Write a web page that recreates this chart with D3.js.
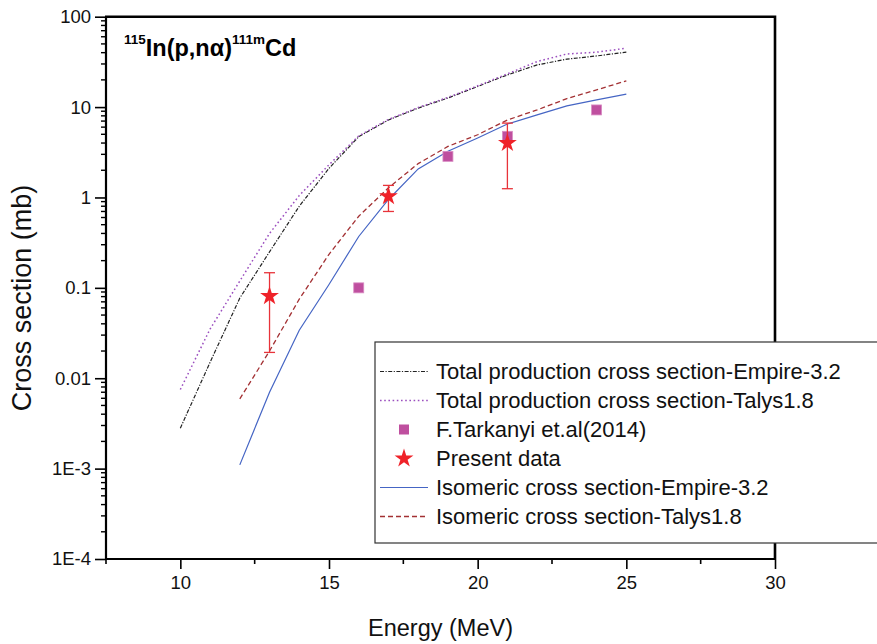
<!DOCTYPE html>
<html>
<head>
<meta charset="utf-8">
<script src="https://cdn.jsdelivr.net/npm/d3@7"></script>
<style>
  html, body { margin: 0; padding: 0; background: #fff; }
  svg { display: block; font-family: Arial, "Liberation Sans", sans-serif; }
</style>
</head>
<body>
<svg id="chart" width="877" height="644"></svg>
<script>
// Proton energies (MeV) for the model curves
const energyTotal = [10, 11, 12, 13, 14, 15, 16, 17, 18, 19, 20, 21, 22, 23, 24, 25];
const empireTotal = [0.0028, 0.015, 0.077, 0.25, 0.80, 2.1, 4.7, 7.2, 9.75, 12.6, 16.9, 22.7, 29.3, 33.9, 36.8, 40.5];
const talysTotal  = [0.0075, 0.035, 0.119, 0.40, 1.05, 2.3, 4.8, 7.3, 9.9, 12.8, 17.2, 23.3, 31.9, 38.7, 40.5, 44.8];

const energyIso = [12, 13, 14, 15, 16, 17, 18, 19, 20, 21, 22, 23, 24, 25];
const empireIso = [0.0011, 0.0070, 0.034, 0.109, 0.37, 0.95, 2.07, 3.24, 4.55, 6.5, 8.2, 10.3, 12.0, 13.9];
const talysIso  = [0.0059, 0.020, 0.075, 0.235, 0.62, 1.28, 2.37, 3.67, 4.94, 7.2, 9.3, 12.4, 15.5, 19.5];

// F. Tarkanyi et al. (2014)
const tarkanyiEnergy = [16, 19, 21, 24];
const tarkanyiValue  = [0.1, 2.85, 4.75, 9.3];

// Present measurements with error limits
const presentEnergy = [13, 17, 21];
const presentValue  = [0.081, 1.03, 4.0];
const presentLow    = [0.0193, 0.70, 1.25];
const presentHigh   = [0.147, 1.36, 6.65];

const xMajorTicks = [10, 15, 20, 25, 30];
const xMinorTicks = [7.5, 12.5, 17.5, 22.5, 27.5];
const yMajorTicks = [100, 10, 1, 0.1, 0.01, 1e-3, 1e-4];
const yTickLabels = ["100", "10", "1", "0.1", "0.01", "1E-3", "1E-4"];

const legendLabels = [
  "Total production cross section-Empire-3.2",
  "Total production cross section-Talys1.8",
  "F.Tarkanyi et.al(2014)",
  "Present data",
  "Isomeric cross section-Empire-3.2",
  "Isomeric cross section-Talys1.8"
];

const svg = d3.select("#chart");
const plotL = 106, plotR = 775, plotT = 16.7, plotB = 559;

const x = d3.scaleLinear().domain([7.5, 30]).range([plotL, plotR]);
const y = d3.scaleLog().domain([1e-4, 100]).range([plotB, plotT]);

const styles = {
  empireTotal: { stroke: "#222", dash: "4,1.5,1.2,1.5", width: 1.2 },
  talysTotal:  { stroke: "#9b4fbf", dash: "1.6,2.6", width: 1.5 },
  empireIso:   { stroke: "#4565c4", dash: null, width: 1.2 },
  talysIso:    { stroke: "#a33033", dash: "5,3", width: 1.3 }
};

const line = d3.line().x(d => x(d[0])).y(d => y(d[1]));

function drawCurve(es, vs, st) {
  svg.append("path")
    .datum(es.map((e, i) => [e, vs[i]]))
    .attr("d", line)
    .attr("fill", "none")
    .attr("stroke", st.stroke)
    .attr("stroke-width", st.width)
    .attr("stroke-dasharray", st.dash);
}

drawCurve(energyTotal, empireTotal, styles.empireTotal);
drawCurve(energyTotal, talysTotal, styles.talysTotal);
drawCurve(energyIso, empireIso, styles.empireIso);
drawCurve(energyIso, talysIso, styles.talysIso);

// Tarkanyi squares
const sq = 10;
svg.append("g").selectAll("rect")
  .data(tarkanyiEnergy.map((e, i) => [e, tarkanyiValue[i]]))
  .join("rect")
  .attr("x", d => x(d[0]) - sq / 2)
  .attr("y", d => y(d[1]) - sq / 2)
  .attr("width", sq).attr("height", sq)
  .attr("fill", "#bf4f9f")
  .attr("stroke", "#d98cc4").attr("stroke-width", 0.8);

// Present data: error bars then stars
const errColor = "#e8333a";
const capW = 11;
const eg = svg.append("g");
presentEnergy.forEach((e, i) => {
  const cx = x(e);
  eg.append("line").attr("x1", cx).attr("x2", cx)
    .attr("y1", y(presentLow[i])).attr("y2", y(presentHigh[i]))
    .attr("stroke", errColor).attr("stroke-width", 1.3);
  [presentLow[i], presentHigh[i]].forEach(v => {
    eg.append("line").attr("x1", cx - capW / 2).attr("x2", cx + capW / 2)
      .attr("y1", y(v)).attr("y2", y(v))
      .attr("stroke", errColor).attr("stroke-width", 1.3);
  });
});
const star = d3.symbol(d3.symbolStar, 110);
svg.append("g").selectAll("path")
  .data(presentEnergy.map((e, i) => [e, presentValue[i]]))
  .join("path")
  .attr("d", star)
  .attr("transform", d => `translate(${x(d[0])},${y(d[1])})`)
  .attr("fill", "#ef2229");

// Axes
const xAxis = svg.append("g").attr("transform", `translate(0,${plotB})`);
xAxis.call(d3.axisBottom(x).tickValues(xMajorTicks).tickSize(10).tickPadding(7)
  .tickFormat(d3.format("d")));
xAxis.append("g").selectAll("line").data(xMinorTicks).join("line")
  .attr("x1", d => x(d)).attr("x2", d => x(d)).attr("y1", 0).attr("y2", 5)
  .attr("stroke", "#000").attr("stroke-width", 1.6);

const yAxis = svg.append("g").attr("transform", `translate(${plotL},0)`);
yAxis.call(d3.axisLeft(y).tickValues(yMajorTicks).tickSize(11).tickPadding(4)
  .tickFormat((d, i) => yTickLabels[i]));
const yMinor = [];
[1e-4, 1e-3, 0.01, 0.1, 1, 10].forEach(b => { for (let k = 2; k <= 9; k++) yMinor.push(b * k); });
yAxis.append("g").selectAll("line").data(yMinor).join("line")
  .attr("x1", 0).attr("x2", -5).attr("y1", d => y(d)).attr("y2", d => y(d))
  .attr("stroke", "#000").attr("stroke-width", 1.4);

[xAxis, yAxis].forEach(g => {
  g.select(".domain").attr("stroke", "#000").attr("stroke-width", 2.2);
  g.selectAll(".tick line").attr("stroke", "#000").attr("stroke-width", 1.6);
  g.selectAll(".tick text").attr("fill", "#111").style("font-size", "18.5px")
    .style("font-family", "Arial, 'Liberation Sans', sans-serif");
});
xAxis.select(".domain").attr("d", `M${plotL},0H${plotR}`);
yAxis.select(".domain").attr("d", `M0,${plotB}V${plotT}`);

// Top and right borders
svg.append("path")
  .attr("d", `M${plotL - 1},${plotT}H${plotR}V${plotB}`)
  .attr("fill", "none").attr("stroke", "#000").attr("stroke-width", 2.6);

// Axis titles
svg.append("text")
  .attr("x", (plotL + plotR) / 2).attr("y", 636)
  .attr("text-anchor", "middle").style("font-size", "23.5px").attr("fill", "#111")
  .text("Energy (MeV)");
svg.append("text")
  .attr("transform", `translate(31,298) rotate(-90)`)
  .attr("text-anchor", "middle").style("font-size", "27px").attr("fill", "#111")
  .text("Cross section (mb)");

// Reaction label
const title = svg.append("text").attr("x", 124).attr("y", 56)
  .style("font-weight", "bold").attr("fill", "#000");
title.append("tspan").style("font-size", "13.5px").attr("dy", -12).text("115");
title.append("tspan").style("font-size", "23.5px").attr("dy", 12).text("In(p,n\u03b1)");
title.append("tspan").style("font-size", "13.5px").attr("dy", -12).text("111m");
title.append("tspan").style("font-size", "23.5px").attr("dy", 12).text("Cd");

// Legend
const lg = svg.append("g");
lg.append("rect").attr("x", 375).attr("y", 342).attr("width", 520).attr("height", 201)
  .attr("fill", "#fff").attr("stroke", "#333").attr("stroke-width", 1.2);
const rowY = [371.5, 400.5, 429.5, 458.5, 487.5, 516.5];
const legendKinds = ["empireTotal", "talysTotal", "square", "star", "empireIso", "talysIso"];
legendKinds.forEach((k, i) => {
  const cy = rowY[i];
  if (styles[k]) {
    const st = styles[k];
    lg.append("line").attr("x1", 380).attr("x2", 428).attr("y1", cy).attr("y2", cy)
      .attr("stroke", st.stroke).attr("stroke-width", st.width)
      .attr("stroke-dasharray", st.dash);
  } else if (k === "square") {
    lg.append("rect").attr("x", 404 - sq / 2).attr("y", cy - sq / 2)
      .attr("width", sq).attr("height", sq).attr("fill", "#bf4f9f");
  } else {
    lg.append("path").attr("d", star).attr("transform", `translate(404,${cy})`)
      .attr("fill", "#ef2229");
  }
  lg.append("text").attr("x", 436).attr("y", cy).attr("dy", "0.35em")
    .style("font-size", "22px").attr("fill", "#111").text(legendLabels[i]);
});
</script>
</body>
</html>
